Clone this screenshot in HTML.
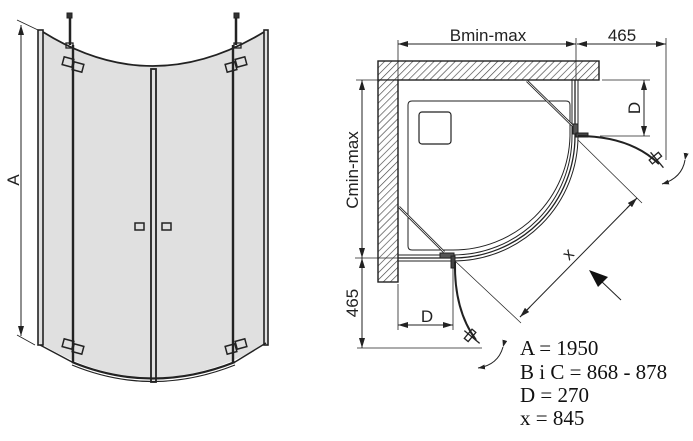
<!DOCTYPE html>
<html><head><meta charset="utf-8"><style>html,body{margin:0;padding:0;background:#fff}svg{display:block}</style></head><body>
<svg width="693" height="441" viewBox="0 0 693 441" xmlns="http://www.w3.org/2000/svg">
<defs>
<pattern id="h" width="5" height="5" patternUnits="userSpaceOnUse" patternTransform="rotate(45)"><rect width="5" height="5" fill="#fff"/><line x1="0" y1="0" x2="0" y2="5" stroke="#444" stroke-width="1.3"/></pattern>
<marker id="a" markerWidth="10" markerHeight="6" refX="10" refY="3" orient="auto" markerUnits="userSpaceOnUse"><path d="M0,0 L10,3 L0,6 z" fill="#222"/></marker>
<marker id="as" markerWidth="7" markerHeight="5" refX="7" refY="2.5" orient="auto" markerUnits="userSpaceOnUse"><path d="M0,0 L7,2.5 L0,5 z" fill="#222"/></marker>
</defs>
<g fill="none" stroke="#222">
<!-- LEFT drawing -->
<path d="M38,30 L43,32 Q152,100 264,32 L268,30 L268,345 L264,345 Q152,410 43,345 L38,343 Z" fill="#e0e0e0" stroke="none"/>
<path d="M43,32 Q152,100 264,32" stroke-width="1.8"/>
<path d="M72,362 Q152,395 235,362" stroke-width="2.2"/>
<path d="M72,365 Q152,398 235,365" stroke-width="1.2"/>
<path d="M40,345 L72,362 M235,362 L266,343" stroke-width="1.4"/>
<rect x="38" y="30" width="5" height="315" stroke-width="1.6"/>
<rect x="264" y="30" width="4" height="315" stroke-width="1.6"/>
<line x1="73" y1="45" x2="73" y2="363" stroke-width="2.4"/>
<line x1="233" y1="45" x2="233" y2="363" stroke-width="2.4"/>
<rect x="151" y="69" width="5" height="313" stroke-width="1.8"/>
<line x1="70" y1="15" x2="70" y2="45" stroke-width="2.5"/>
<line x1="236" y1="15" x2="236" y2="45" stroke-width="2.5"/>
<rect x="67" y="13" width="5" height="5" fill="#333"/><rect x="234" y="13" width="5" height="5" fill="#333"/>
<rect x="66" y="43" width="7" height="5" stroke-width="1.3"/><rect x="234" y="43" width="7" height="5" stroke-width="1.3"/>
<g stroke-width="1.5">
<rect x="63" y="58" width="10" height="8" transform="rotate(15 68 62)"/><rect x="73" y="63" width="10" height="8" transform="rotate(15 78 67)"/>
<rect x="226" y="63" width="10" height="8" transform="rotate(-15 231 67)"/><rect x="236" y="58" width="10" height="8" transform="rotate(-15 241 62)"/>
<rect x="63" y="340" width="10" height="8" transform="rotate(15 68 344)"/><rect x="73" y="345" width="10" height="8" transform="rotate(15 78 349)"/>
<rect x="226" y="345" width="10" height="8" transform="rotate(-15 231 349)"/><rect x="236" y="340" width="10" height="8" transform="rotate(-15 241 344)"/>
</g>
<rect x="135" y="223" width="9" height="7" stroke-width="1.5"/><rect x="162" y="223" width="9" height="7" stroke-width="1.5"/>
<line x1="21" y1="38" x2="21" y2="25" marker-end="url(#a)" stroke-width="1"/>
<line x1="21" y1="320" x2="21" y2="336" marker-end="url(#a)" stroke-width="1"/>
<line x1="21" y1="36" x2="21" y2="322" stroke-width="1"/>
<line x1="17" y1="20" x2="38" y2="30" stroke-width="0.8"/>
<line x1="17" y1="335" x2="35" y2="345" stroke-width="0.8"/>

<!-- RIGHT plan -->
<rect x="378" y="61" width="221" height="19" fill="url(#h)" stroke-width="1.2"/>
<rect x="378" y="80" width="20" height="202" fill="url(#h)" stroke-width="1.2"/>
<path d="M378,61 L599,61 L599,80 L398,80 L398,282 L378,282 Z" stroke-width="1.3"/>
<path d="M412,101 L566,101 Q570,101 570,105 L570,136 A117,117 0 0 1 453,250 L412,250 Q408,250 408,246 L408,105 Q408,101 412,101 Z" stroke-width="1"/>
<rect x="419" y="112" width="32" height="32" rx="3" stroke-width="1.2"/>
<path d="M572,80 L572,136 A119,119 0 0 1 453,255 L398,255" stroke-width="1"/>
<path d="M575,80 L575,136 A122,122 0 0 1 453,258 L398,258" stroke-width="1.3"/>
<path d="M578,80 L578,136 A125,125 0 0 1 453,261 L398,261" stroke-width="1"/>
<line x1="527" y1="81" x2="574" y2="127" stroke-width="2.5"/><line x1="527" y1="81" x2="574" y2="127" stroke="#fff" stroke-width="0.8"/>
<line x1="399" y1="207" x2="444" y2="252" stroke-width="2.5"/><line x1="399" y1="207" x2="444" y2="252" stroke="#fff" stroke-width="0.8"/>
<rect x="573" y="124" width="5" height="10" fill="#555"/><rect x="576" y="133" width="12" height="4" fill="#444"/>
<rect x="440" y="253" width="14" height="5" fill="#555"/><rect x="451" y="256" width="4" height="12" fill="#444"/>
<path d="M578,136 Q630,136 659,164" stroke-width="2"/>
<path d="M455,262 Q454,310 476,340" stroke-width="2"/>
<g transform="rotate(-40 657 160)"><rect x="651" y="155" width="12" height="5" stroke-width="1.3"/><line x1="657" y1="150" x2="657" y2="170" stroke-width="1.3"/></g>
<g transform="rotate(-50 472 337)"><rect x="466" y="332" width="12" height="5" stroke-width="1.3"/><line x1="472" y1="327" x2="472" y2="347" stroke-width="1.3"/></g>
<path d="M685,160 Q682,178 662,184" stroke-width="1" marker-start="url(#as)" marker-end="url(#as)"/>
<path d="M503,347 Q498,365 478,368" stroke-width="1" marker-start="url(#as)" marker-end="url(#as)"/>
<line x1="412" y1="44" x2="398" y2="44" stroke-width="1" marker-end="url(#a)"/>
<line x1="398" y1="44" x2="576" y2="44" stroke-width="1"/>
<line x1="562" y1="44" x2="576" y2="44" stroke-width="1" marker-end="url(#a)"/>
<line x1="592" y1="44" x2="577" y2="44" stroke-width="1" marker-end="url(#a)"/>
<line x1="650" y1="44" x2="666" y2="44" stroke-width="1" marker-end="url(#a)"/>
<line x1="577" y1="44" x2="666" y2="44" stroke-width="1"/>
<line x1="398" y1="40" x2="398" y2="80" stroke-width="0.8"/>
<line x1="576" y1="38" x2="576" y2="80" stroke-width="0.8"/>
<line x1="666" y1="38" x2="666" y2="160" stroke-width="0.8"/>
<line x1="602" y1="80" x2="650" y2="80" stroke-width="0.8"/>
<line x1="600" y1="136" x2="650" y2="136" stroke-width="0.8"/>
<line x1="644" y1="80" x2="644" y2="136" stroke-width="1"/>
<line x1="644" y1="95" x2="644" y2="80" marker-end="url(#a)" stroke-width="1"/>
<line x1="644" y1="121" x2="644" y2="136" marker-end="url(#a)" stroke-width="1"/>
<line x1="356" y1="80" x2="398" y2="80" stroke-width="0.8"/>
<line x1="355" y1="258" x2="398" y2="258" stroke-width="0.8"/>
<line x1="362" y1="80" x2="362" y2="348" stroke-width="1"/>
<line x1="362" y1="95" x2="362" y2="80" marker-end="url(#a)" stroke-width="1"/>
<line x1="362" y1="243" x2="362" y2="258" marker-end="url(#a)" stroke-width="1"/>
<line x1="362" y1="273" x2="362" y2="258" marker-end="url(#a)" stroke-width="1"/>
<line x1="362" y1="333" x2="362" y2="348" marker-end="url(#a)" stroke-width="1"/>
<line x1="357" y1="348" x2="482" y2="348" stroke-width="0.8"/>
<line x1="398" y1="284" x2="398" y2="330" stroke-width="0.8"/>
<line x1="453" y1="268" x2="453" y2="330" stroke-width="0.8"/>
<line x1="398" y1="325" x2="453" y2="325" stroke-width="1"/>
<line x1="412" y1="325" x2="398" y2="325" marker-end="url(#a)" stroke-width="1"/>
<line x1="439" y1="325" x2="453" y2="325" marker-end="url(#a)" stroke-width="1"/>
<line x1="578" y1="140" x2="642" y2="203" stroke-width="0.7"/>
<line x1="455" y1="261" x2="521" y2="323" stroke-width="0.7"/>
<line x1="637" y1="198" x2="520" y2="317" stroke-width="1"/>
<line x1="627" y1="208" x2="637" y2="198" marker-end="url(#a)" stroke-width="1"/>
<line x1="530" y1="307" x2="520" y2="317" marker-end="url(#a)" stroke-width="1"/>
<line x1="621" y1="300" x2="600" y2="280" stroke-width="1"/>
<path d="M589,270 L608,277 L598,287 Z" fill="#111" stroke="none"/>
</g>
<g font-family="Liberation Sans, sans-serif" font-size="17" fill="#222">
<text x="488" y="41" text-anchor="middle">Bmin-max</text>
<text x="622" y="41" text-anchor="middle">465</text>
<text transform="translate(640,108) rotate(-90)" text-anchor="middle">D</text>
<text transform="translate(358,170) rotate(-90)" text-anchor="middle">Cmin-max</text>
<text transform="translate(358,303) rotate(-90)" text-anchor="middle">465</text>
<text x="427" y="322" text-anchor="middle">D</text>
<text transform="translate(572,258) rotate(-45)" text-anchor="middle">x</text>
<text transform="translate(19,180) rotate(-90)" text-anchor="middle">A</text>
</g>
<g font-family="Liberation Serif, serif" font-size="21" fill="#111">
<text x="520" y="355">A = 1950</text>
<text x="520" y="379">B i C = 868 - 878</text>
<text x="520" y="402">D = 270</text>
<text x="520" y="425">x = 845</text>
</g>
</svg>
</body></html>
